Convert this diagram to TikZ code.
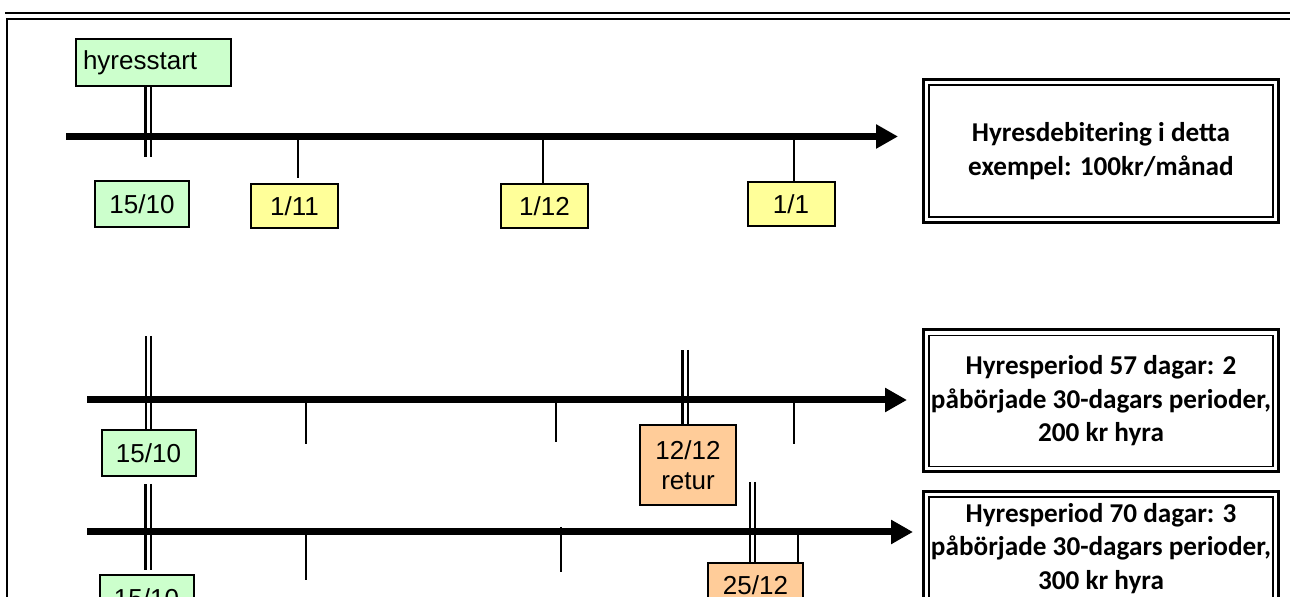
\documentclass[tikz,border=0pt]{standalone}
\usepackage{fontspec}
\setmainfont{Liberation Sans}
\newfontfamily\calibri{Carlito}
\usepackage{tikz}
\usetikzlibrary{arrows.meta,calc}
\definecolor{StartGreen}{HTML}{CCFFCC}
\definecolor{MonthYellow}{HTML}{FFFF99}
\definecolor{ReturnPeach}{HTML}{FFCC99}

\begin{document}
\begin{tikzpicture}[
  x=0.5pt, y=-0.5pt,
  frame/.style={line width=1.2pt},
  datebox/.style={draw,line width=1pt,inner sep=0pt,align=center,font=\fontsize{13}{15}\selectfont},
  startbox/.style={datebox,fill=StartGreen,minimum width=47pt,minimum height=23pt},
  monthbox/.style={datebox,fill=MonthYellow,minimum width=43.5pt,minimum height=22pt},
  returnbox/.style={datebox,fill=ReturnPeach,minimum width=48pt,minimum height=40pt},
  infobox/.style={draw,line width=1.5pt,minimum width=177.5pt,minimum height=71.5pt,inner sep=0pt,align=center,font=\calibri\bfseries\fontsize{13.6}{16.8}\selectfont},
  axis/.style={line width=3.5pt,-{Triangle[length=11pt,width=11.5pt]}},
  tick/.style={line width=0.75pt},
  startline/.style={double,line width=1.2pt,double distance=1.5pt}
]
  \useasboundingbox (0,0) rectangle (1290,597);
  \clip (0,0) rectangle (1290,597);

  % outer frame
  \draw[frame] (5,13) -- (1290,13);
  \draw[frame] (7,597) -- (7,19) -- (1290,19);

  % row 1: monthly debit
  \node[datebox,fill=StartGreen,minimum width=77.5pt,minimum height=23.5pt,text width=70.5pt,inner xsep=3.5pt,align=left] (hs) at (153.5,62.5) {hyresstart};
  \node[startbox] (s1) at (142,204) {15/10};
  \node[monthbox] (m11) at (294.5,206) {1/11};
  \node[monthbox] (m12) at (544.5,206) {1/12};
  \node[monthbox] (m1) at (791,204.5) {1/1};
  \node[infobox] (hdeb) at (1101,151) {Hyresdebitering i detta\\exempel: 100kr/månad};

  \coordinate (d1) at (148,157);
  \coordinate (t11) at (298,136.5);
  \coordinate (t12) at (543,136.5);
  \coordinate (t1) at (794,136.5);
  \draw[startline] (d1) -- (d1 |- hs.south);
  \draw[tick] (t11) -- (298,178);
  \draw[tick] (t12) -- (t12 |- m12.north);
  \draw[tick] (t1) -- (t1 |- m1.north);
  \draw[axis] (66,136.5) -- (898,136.5);

  % row 2: return 12/12
  \node[startbox] (s2) at (148.5,453.5) {15/10};
  \node[returnbox] (r2) at (688,465) {12/12\\retur};
  \node[infobox,minimum height=71pt] (hp57) at (1101,401) {Hyresperiod 57 dagar: 2\\påbörjade 30-dagars perioder,\\200 kr hyra};

  \coordinate (d2) at (148.5,336);
  \coordinate (e2) at (685,350);
  \draw[startline] (d2) -- (s2.north);
  \draw[startline] (e2) -- (e2 |- r2.north);
  \draw[tick] (306,400) -- (306,444);
  \draw[tick] (556,400) -- (556,442);
  \draw[tick] (794,400) -- (794,444);
  \draw[axis] (87,400) -- (907,400);

  % row 3: return 25/12
  \node[startbox] (s3) at (146.5,598.5) {15/10};
  \node[datebox,fill=ReturnPeach,minimum width=47.5pt,minimum height=22pt] (r3) at (755.5,585) {25/12};
  \node[infobox,minimum height=57pt] (hp70) at (1101,548.5) {Hyresperiod 70 dagar: 3\\påbörjade 30-dagars perioder,\\300 kr hyra};

  \coordinate (d3) at (148,484);
  \coordinate (e3) at (752.5,482);
  \coordinate (t3) at (798,532);
  \draw[startline] (d3) -- (148,570);
  \draw[startline] (e3) -- (e3 |- r3.north);
  \draw[tick] (306,532) -- (306,580);
  \draw[tick] (561,527) -- (561,572);
  \draw[tick] (t3) -- (t3 |- r3.north);
  \draw[axis] (87,532) -- (913,532);

  % inner lines of the info boxes
  \foreach \b in {hdeb,hp57,hp70}
    \draw[line width=0.8pt] ([shift={(3.5pt,-3.5pt)}]\b.north west) rectangle ([shift={(-3.5pt,3.5pt)}]\b.south east);
\end{tikzpicture}
\end{document}
